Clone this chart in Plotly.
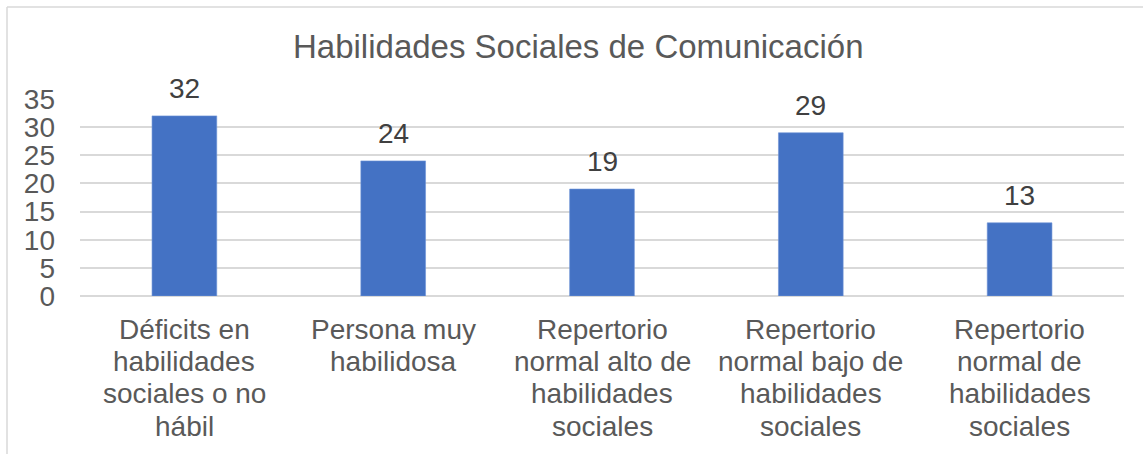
import plotly.graph_objects as go

# ---- data ----
categories = [
    "Déficits en habilidades sociales o no hábil",
    "Persona muy habilidosa",
    "Repertorio normal alto de habilidades sociales",
    "Repertorio normal bajo de habilidades sociales",
    "Repertorio normal de habilidades sociales",
]
category_lines = [
    ["Déficits en", "habilidades", "sociales o no", "hábil"],
    ["Persona muy", "habilidosa"],
    ["Repertorio", "normal alto de", "habilidades", "sociales"],
    ["Repertorio", "normal bajo de", "habilidades", "sociales"],
    ["Repertorio", "normal de", "habilidades", "sociales"],
]
values = [32, 24, 19, 29, 13]
y_ticks = [0, 5, 10, 15, 20, 25, 30, 35]
title_text = "Habilidades Sociales de Comunicación"

# ---- layout constants (pixels) ----
W, H = 1143, 454
ML, MR, MT, MB = 80, 19, 99, 158
PW = W - ML - MR
PH = H - MT - MB
FONT = "Liberation Sans, Arial, sans-serif"
GRID = "#D9D9D9"
TXT = "#595959"
LBL = "#404040"


def px_x(px):
    return (px - ML) / PW


def px_y(py):
    return (H - MB - py) / PH


fig = go.Figure()
fig.add_trace(go.Bar(
    x=categories, y=values,
    marker=dict(color="#4472C4", line=dict(color="#6F93D6", width=0.6)),
    width=0.31, hoverinfo="skip",
))

annotations = []
# title
annotations.append(dict(
    text=title_text, xref="paper", yref="paper", x=px_x(578), y=1,
    xanchor="center", yanchor="bottom", yshift=32, showarrow=False,
    font=dict(family=FONT, size=33, color=TXT),
))
# data labels
for c, v in zip(categories, values):
    annotations.append(dict(
        text=str(v), x=c, y=v, xref="x", yref="y",
        xanchor="center", yanchor="bottom", yshift=10, showarrow=False,
        font=dict(family=FONT, size=28, color=LBL),
    ))
# category labels, line by line
for c, lines in zip(categories, category_lines):
    for i, ln in enumerate(lines):
        annotations.append(dict(
            text=ln, x=c, y=0, xref="x", yref="paper",
            xanchor="center", yanchor="bottom",
            yshift=-51 - 32.2 * i, showarrow=False,
            font=dict(family=FONT, size=28, color=TXT),
        ))

shapes = [
    dict(type="line", xref="paper", yref="paper",
         x0=px_x(7), x1=px_x(W + 5), y0=px_y(7), y1=px_y(7),
         line=dict(color=GRID, width=1.5)),
    dict(type="line", xref="paper", yref="paper",
         x0=px_x(7), x1=px_x(7), y0=px_y(7), y1=px_y(H + 5),
         line=dict(color=GRID, width=1.5)),
]

fig.update_layout(
    width=W, height=H,
    margin=dict(l=ML, r=MR, t=MT, b=MB, pad=0),
    paper_bgcolor="white", plot_bgcolor="white",
    showlegend=False,
    bargap=0.69,
    annotations=annotations,
    shapes=shapes,
    xaxis=dict(type="category", showticklabels=False, showgrid=False,
               showline=False, zeroline=False, ticks=""),
    yaxis=dict(range=[0, 35], tickvals=y_ticks, ticktext=[str(t) for t in y_ticks],
               showgrid=True, gridcolor=GRID, gridwidth=1.5,
               zeroline=True, zerolinecolor=GRID, zerolinewidth=1.5,
               showline=False, ticks="", ticklabelstandoff=24,
               tickfont=dict(family=FONT, size=28, color=TXT)),
)

fig.write_html(
    "out.html",
    config={"displayModeBar": False},
    post_script="document.body.style.margin='0';document.body.style.overflow='hidden';",
)
